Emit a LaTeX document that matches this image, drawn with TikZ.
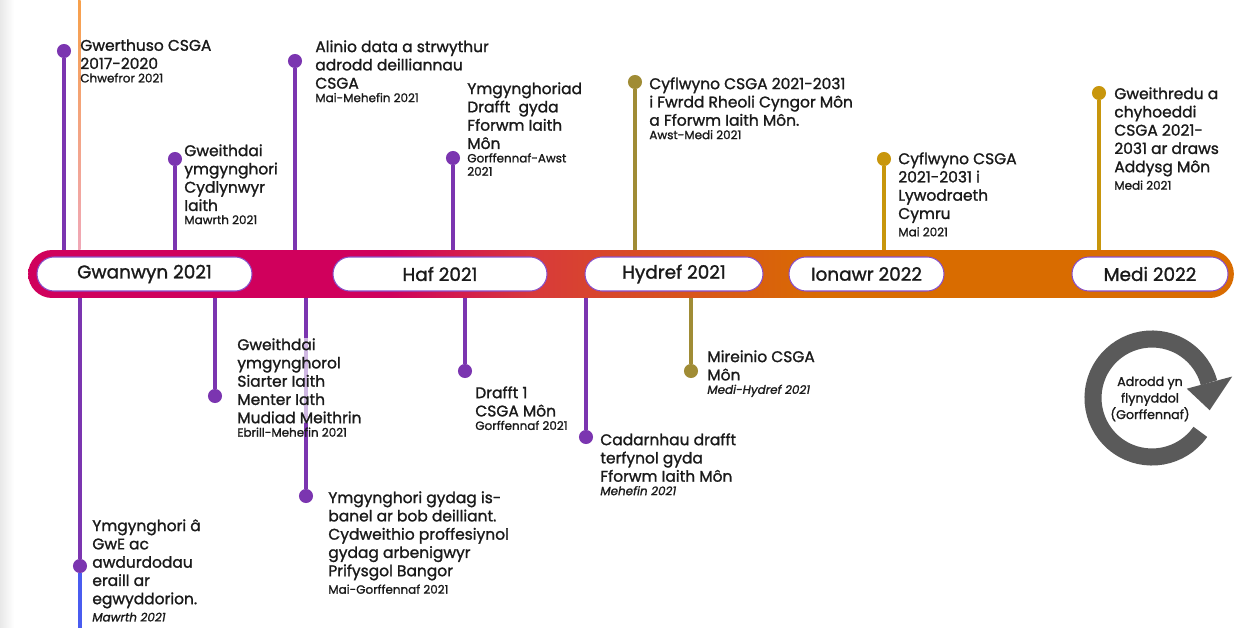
\documentclass[tikz,border=0pt]{standalone}
\usepackage{fontspec}
\setmainfont{Poppins}[RawFeature={embolden=1.3}]
\usetikzlibrary{calc}
\definecolor{purp}{HTML}{7B35B0}
\definecolor{olivec}{HTML}{A08C35}
\definecolor{goldc}{HTML}{C8960C}
\definecolor{crim}{HTML}{D0005C}
\definecolor{redm}{HTML}{D83A3A}
\definecolor{orng}{HTML}{D96C00}
\definecolor{pillline}{HTML}{8A50C8}
\definecolor{ringgray}{HTML}{5A5A5A}
\definecolor{txt}{HTML}{1A1A1A}
\definecolor{bluel}{HTML}{4A5CF0}
\definecolor{orline}{HTML}{F7A04A}
\definecolor{pinkline}{HTML}{F0A8B8}
\pgfdeclarehorizontalshading{barshade}{100bp}{color(0bp)=(crim); color(40bp)=(crim); color(46bp)=(redm); color(58bp)=(orng); color(100bp)=(orng)}
\begin{document}
\begin{tikzpicture}[x=0.02cm,y=-0.02cm,
  stem/.style={line width=1.8pt},
  dotn/.style={circle, inner sep=0pt, minimum size=8pt},
  ev/.style={anchor=north west, inner sep=0pt, align=left, text=txt, font=\fontsize{8.8}{10.4}\selectfont},
  dt/.style={anchor=north west, inner sep=0pt, align=left, text=txt, font=\fontsize{6.8}{7.6}\selectfont},
  pill/.style={draw=pillline, line width=0.6pt, fill=white, rounded corners=9.6pt, minimum height=0.68cm, inner sep=0pt, text=txt, font=\fontsize{10.5}{12}\selectfont},
  bar/.style={shading=barshade, rounded corners=0.48cm, minimum height=0.96cm, minimum width=24.12cm, inner sep=0pt}
]
\useasboundingbox (0,0) rectangle (1235,628);
\fill[white] (0,0) rectangle (1235,628);
\shade[left color=black!9, right color=white] (0,0) rectangle (14,628);

\coordinate (barT) at (0,250);
\coordinate (barB) at (0,298);
\coordinate (botE) at (0,628);
\coordinate (topE) at (0,0);

% orange line at top left
\shade[top color=orline, bottom color=pinkline] (78,0) rectangle (80.5,250);

% ---- events above ----
\node[dotn, fill=purp] (p1) at (64,51) {};
\node[dotn, fill=purp] (p2) at (175,159) {};
\node[dotn, fill=purp] (p3) at (295,61) {};
\node[dotn, fill=purp] (p4) at (453,158) {};
\node[dotn, fill=olivec] (p5) at (635,82) {};
\node[dotn, fill=goldc] (p6) at (884,159) {};
\node[dotn, fill=goldc] (p7) at (1099,93) {};
\draw[stem, purp] (p1) -- (p1 |- barT);
\draw[stem, purp] (p2) -- (p2 |- barT);
\draw[stem, purp] (p3) -- (p3 |- barT);
\draw[stem, purp] (p4) -- (p4 |- barT);
\draw[stem, olivec] (p5) -- (p5 |- barT);
\draw[stem, goldc] (p6) -- (p6 |- barT);
\draw[stem, goldc] (p7) -- (p7 |- barT);

% ---- events below ----
\node[dotn, fill=purp] (q8) at (80,566) {};
\node[dotn, fill=purp] (q9) at (215,396) {};
\node[dotn, fill=purp] (q10) at (306,496) {};
\node[dotn, fill=purp] (q11) at (465,371) {};
\node[dotn, fill=purp] (q12) at (586,437) {};
\node[dotn, fill=olivec] (q13) at (691,371) {};
\draw[stem, purp] (q8 |- barB) -- (q8);
\draw[stem, bluel] (q8) -- (q8 |- botE);
\draw[stem, purp] (q9 |- barB) -- (q9);
\draw[stem, purp] (q10 |- barB) -- (q10);
\draw[stem, purp] (q11 |- barB) -- (q11);
\draw[stem, purp] (q12 |- barB) -- (q12);
\draw[stem, olivec] (q13 |- barB) -- (q13);

% ---- bar and season labels ----
\node[bar] (bar) at (631,274) {};
\node[pill, minimum width=4.30cm] (s1) at (144.5,274) {Gwanwyn 2021};
\node[pill, minimum width=4.28cm] (s2) at (440,274) {Haf 2021};
\node[pill, minimum width=3.56cm] (s3) at (674,274) {Hydref 2021};
\node[pill, minimum width=3.10cm] (s4) at (866.5,274) {Ionawr 2022};
\node[pill, minimum width=3.12cm] (s5) at (1150,274) {Medi 2022};

% ---- texts above ----
\node[ev] (t1) at (80,39) {Gwerthuso CSGA\\2017-2020};
\node[dt] (d1) at ([yshift=-2pt]t1.south west) {Chwefror 2021};
\node[ev] (t2) at (184,144) {Gweithdai\\ymgynghori\\Cydlynwyr\\Iaith};
\node[dt] (d2) at ([yshift=-2pt]t2.south west) {Mawrth 2021};
\node[ev] (t3) at (315,40) {Alinio data a strwythur\\adrodd deilliannau\\CSGA};
\node[dt] (d3) at ([yshift=-2pt]t3.south west) {Mai-Mehefin 2021};
\node[ev] (t4) at (467,82) {Ymgynghoriad\\Drafft~ gyda\\Fforwm Iaith\\Môn};
\node[dt] (d4) at ([yshift=-2pt]t4.south west) {Gorffennaf-Awst\\2021};
\node[ev] (t5) at (649,77) {Cyflwyno CSGA 2021-2031\\i Fwrdd Rheoli Cyngor Môn\\a Fforwm Iaith Môn.};
\node[dt] (d5) at ([yshift=-2pt]t5.south west) {Awst-Medi 2021};
\node[ev] (t6) at (898,152) {Cyflwyno CSGA\\2021-2031 i\\Lywodraeth\\Cymru};
\node[dt] (d6) at ([yshift=-2pt]t6.south west) {Mai 2021};
\node[ev] (t7) at (1114,87) {Gweithredu a\\chyhoeddi\\CSGA 2021-\\2031 ar draws\\Addysg Môn};
\node[dt] (d7) at ([yshift=-2pt]t7.south west) {Medi 2021};

% ---- texts below ----
\node[ev] (t8) at (92,519) {Ymgynghori â\\GwE ac\\awdurdodau\\eraill ar\\egwyddorion.};
\node[dt, font=\fontsize{6.8}{7.6}\selectfont\itshape] (d8) at ([yshift=-2pt]t8.south west) {Mawrth 2021};
\node[ev, fill=white, fill opacity=0.65, text opacity=1] (t9) at (237,338) {Gweithdai\\ymgynghorol\\Siarter Iaith\\Menter Iath\\Mudiad Meithrin};
\node[dt] (d9) at ([yshift=-2pt]t9.south west) {Ebrill-Mehefin 2021};
\node[ev] (t10) at (328,491) {Ymgynghori gydag is-\\banel ar bob deilliant.\\Cydweithio proffesiynol\\gydag arbenigwyr\\Prifysgol Bangor};
\node[dt] (d10) at ([yshift=-2pt]t10.south west) {Mai-Gorffennaf 2021};
\node[ev] (t11) at (475,386) {Drafft 1\\CSGA Môn};
\node[dt] (d11) at ([yshift=-2pt]t11.south west) {Gorffennaf 2021};
\node[ev] (t12) at (600,433) {Cadarnhau drafft\\terfynol gyda\\Fforwm Iaith Môn};
\node[dt, font=\fontsize{6.8}{7.6}\selectfont\itshape] (d12) at ([yshift=-2pt]t12.south west) {Mehefin 2021};
\node[ev] (t13) at (707,350) {Mireinio CSGA\\Môn};
\node[dt, font=\fontsize{6.8}{7.6}\selectfont\itshape] (d13) at ([yshift=-2pt]t13.south west) {Medi-Hydref 2021};

% ---- cycle icon ----
\begin{scope}[shift={(1152,398)}, x=0.02cm, y=0.02cm]
  \draw[ringgray, line width=9.7pt] (-35:59) arc[start angle=-35, end angle=-345, radius=59];
  \fill[ringgray] (15:36) -- (15:83) -- (-12:59) -- cycle;
  \node[align=center, text=txt, inner sep=0pt, font=\fontsize{7.2}{9.4}\selectfont] (cyc) at (-2,-1) {Adrodd yn\\flynyddol\\(Gorffennaf)};
\end{scope}
\end{tikzpicture}
\end{document}
